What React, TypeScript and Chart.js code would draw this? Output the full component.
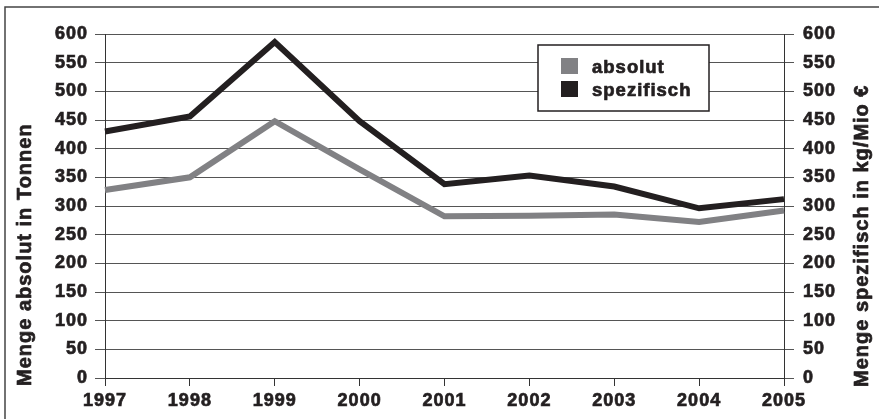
import React, { useEffect, useRef } from 'react';
import { Chart, registerables } from 'chart.js';

Chart.register(...registerables);

const years = ['1997', '1998', '1999', '2000', '2001', '2002', '2003', '2004', '2005'];
const absolut = [328, 350, 448, 364, 282, 283, 285, 272, 292];
const spezifisch = [430, 456, 586, 448, 338, 353, 334, 296, 312];
const yMin = 0;
const yMax = 600;
const yStep = 50;
const seriesNames = ['absolut', 'spezifisch'];
const leftTitle = 'Menge absolut in Tonnen';
const rightTitle = 'Menge spezifisch in kg/Mio €';

const GREY = '#818184';
const BLACK = '#231f20';
const GRID = '#555555';
const FONT_FAMILY = '"Liberation Sans", Arial, Helvetica, sans-serif';

function boldText(ctx: any, text: string, x: number, y: number) {
  ctx.lineWidth = 0.7;
  ctx.strokeStyle = BLACK;
  ctx.lineJoin = 'round';
  ctx.strokeText(text, x, y);
  ctx.fillText(text, x, y);
}

const decorPlugin = {
  id: 'decor',
  beforeDraw(chart: any) {
    const ctx = chart.ctx;
    ctx.save();
    ctx.fillStyle = '#ffffff';
    ctx.fillRect(0, 0, chart.width, chart.height);
    ctx.strokeStyle = '#444444';
    ctx.lineWidth = 1.5;
    ctx.beginPath();
    ctx.moveTo(5, chart.height);
    ctx.lineTo(5, 7);
    ctx.lineTo(chart.width, 7);
    ctx.stroke();
    ctx.restore();
    ctx.letterSpacing = '1px';
  },
  afterDraw(chart: any) {
    const ctx = chart.ctx;
    ctx.save();
    ctx.letterSpacing = '1px';
    // legend box
    const bx = 538, by = 45, bw = 171, bh = 66;
    ctx.fillStyle = '#ffffff';
    ctx.fillRect(bx, by, bw, bh);
    ctx.strokeStyle = BLACK;
    ctx.lineWidth = 1.5;
    ctx.strokeRect(bx, by, bw, bh);
    const colors = [GREY, BLACK];
    ctx.font = 'bold 18.5px ' + FONT_FAMILY;
    ctx.textBaseline = 'alphabetic';
    ctx.textAlign = 'left';
    seriesNames.forEach((name, i) => {
      const sy = 58 + i * 23;
      ctx.fillStyle = colors[i];
      ctx.fillRect(561, sy, 17, 16);
      ctx.fillStyle = BLACK;
      boldText(ctx, name, 592, sy + 15);
    });
    // axis titles
    ctx.fillStyle = BLACK;
    ctx.font = 'bold 20px ' + FONT_FAMILY;
    ctx.textBaseline = 'middle';
    ctx.textAlign = 'left';
    ctx.save();
    ctx.translate(25, 386);
    ctx.rotate(-Math.PI / 2);
    boldText(ctx, leftTitle, 0, 0);
    ctx.restore();
    ctx.save();
    ctx.translate(862, 387);
    ctx.rotate(-Math.PI / 2);
    boldText(ctx, rightTitle, 0, 0);
    ctx.restore();
    ctx.restore();
  },
};

export default function App() {
  const canvasRef = useRef<HTMLCanvasElement | null>(null);

  useEffect(() => {
    const canvas = canvasRef.current;
    if (!canvas) return;
    const tickFont = { family: FONT_FAMILY, size: 18, weight: 'bold' as const };
    const tickCommon = {
      color: BLACK,
      font: tickFont,
      textStrokeColor: BLACK,
      textStrokeWidth: 0.7,
    };
    const chart = new Chart(canvas, {
      type: 'line',
      data: {
        labels: years,
        datasets: [
          {
            label: seriesNames[0],
            data: absolut,
            borderColor: GREY,
            backgroundColor: GREY,
            borderWidth: 6,
            pointRadius: 0,
            tension: 0,
            borderJoinStyle: 'miter',
            borderCapStyle: 'butt',
            yAxisID: 'y',
          },
          {
            label: seriesNames[1],
            data: spezifisch,
            borderColor: BLACK,
            backgroundColor: BLACK,
            borderWidth: 6,
            pointRadius: 0,
            tension: 0,
            borderJoinStyle: 'miter',
            borderCapStyle: 'butt',
            yAxisID: 'y1',
          },
        ],
      },
      options: {
        responsive: false,
        animation: false,
        devicePixelRatio: 1,
        layout: { padding: { top: 34, left: 0, right: 0, bottom: 0 } },
        plugins: {
          legend: { display: false },
          tooltip: { enabled: false },
          title: { display: false },
        },
        scales: {
          x: {
            type: 'category',
            offset: false,
            grid: {
              display: true,
              drawOnChartArea: false,
              drawTicks: true,
              tickLength: 8,
              color: '#333333',
              lineWidth: 1,
            },
            border: { display: true, color: '#333333', width: 1 },
            ticks: {
              ...tickCommon,
              padding: 4,
              maxRotation: 0,
              autoSkip: false,
            },
            afterFit: (scale: any) => {
              scale.height = 41;
            },
          },
          y: {
            position: 'left',
            min: yMin,
            max: yMax,
            grid: {
              display: true,
              drawOnChartArea: true,
              drawTicks: true,
              tickLength: 10,
              color: GRID,
              lineWidth: 1,
            },
            border: { display: true, color: '#333333', width: 1 },
            ticks: {
              ...tickCommon,
              stepSize: yStep,
              padding: 7,
            },
            afterFit: (scale: any) => {
              scale.width = 105;
            },
          },
          y1: {
            position: 'right',
            min: yMin,
            max: yMax,
            grid: {
              display: true,
              drawOnChartArea: false,
              drawTicks: true,
              tickLength: 10,
              color: GRID,
              lineWidth: 1,
            },
            border: { display: true, color: '#333333', width: 1 },
            ticks: {
              ...tickCommon,
              stepSize: yStep,
              padding: 9,
            },
            afterFit: (scale: any) => {
              scale.width = 95;
            },
          },
        },
      },
      plugins: [decorPlugin],
    });
    return () => {
      chart.destroy();
    };
  }, []);

  return (
    <div style={{ position: 'absolute', left: 0, top: 0, width: 879, height: 419 }}>
      <canvas ref={canvasRef} width={879} height={419} style={{ display: 'block' }} />
    </div>
  );
}
